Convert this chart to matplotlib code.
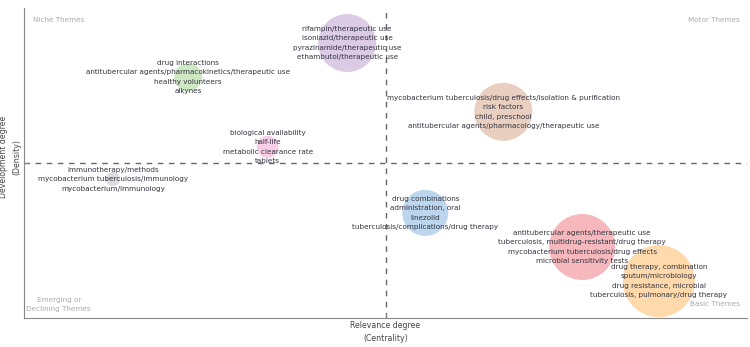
import matplotlib
matplotlib.use("Agg")
import matplotlib.pyplot as plt

# Theme clusters: centrality (x), density (y), bubble size, colour, label lines
themes = [
    "rifampin", "drug interactions", "biological availability", "immunotherapy",
    "mycobacterium tuberculosis/drug effects", "drug combinations",
    "antitubercular agents", "drug therapy, combination",
]
centrality = [0.447, 0.227, 0.337, 0.123, 0.663, 0.555, 0.772, 0.878]
density = [0.887, 0.777, 0.552, 0.448, 0.665, 0.339, 0.229, 0.119]
bubble_size = [1743, 406, 251, 102, 1743, 1097, 2258, 2687]
colors = ["#dccbe4", "#cfe8c4", "#f8cde6", "#dcdcdc", "#e9cfc0", "#bcd6ee", "#f6b8bd", "#fed9ab"]
labels = [
    ["rifampin/therapeutic use", "isoniazid/therapeutic use",
     "pyrazinamide/therapeutic use", "ethambutol/therapeutic use"],
    ["drug interactions", "antitubercular agents/pharmacokinetics/therapeutic use",
     "healthy volunteers", "alkynes"],
    ["biological availability", "half-life", "metabolic clearance rate", "tablets"],
    ["immunotherapy/methods", "mycobacterium tuberculosis/immunology",
     "mycobacterium/immunology"],
    ["mycobacterium tuberculosis/drug effects/isolation & purification",
     "risk factors", "child, preschool",
     "antitubercular agents/pharmacology/therapeutic use"],
    ["drug combinations", "administration, oral", "linezolid",
     "tuberculosis/complications/drug therapy"],
    ["antitubercular agents/therapeutic use",
     "tuberculosis, multidrug-resistant/drug therapy",
     "mycobacterium tuberculosis/drug effects", "microbial sensitivity tests"],
    ["drug therapy, combination", "sputum/microbiology",
     "drug resistance, microbial", "tuberculosis, pulmonary/drug therapy"],
]
median_x = 0.5
median_y = 0.5

plt.rcParams['font.family'] = ['DejaVu Sans']
fig = plt.figure(figsize=(7.5, 3.47), dpi=100)
ax = fig.add_axes([24 / 750, 29 / 347, 723 / 750, 310 / 347])
ax.set_xlim(0, 1)
ax.set_ylim(0, 1)

ax.scatter(centrality, density, s=bubble_size, c=colors, edgecolors="none", zorder=2)
ax.axvline(median_x, color="#666666", lw=1, ls=(0, (4, 4)), zorder=1)
ax.axhline(median_y, color="#666666", lw=1, ls=(0, (4, 4)), zorder=1)

for x, y, lab in zip(centrality, density, labels):
    ax.text(x, y, "\n".join(lab), ha="center", va="center", fontsize=5.2,
            color="#333340", linespacing=1.68, zorder=3)

qc = "#aaaaaa"
ax.text(0.012, 0.962, "Niche Themes", ha="left", va="center", fontsize=5.2, color=qc)
ax.text(0.990, 0.962, "Motor Themes", ha="right", va="center", fontsize=5.2, color=qc)
ax.text(0.048, 0.044, "Emerging or\nDeclining Themes", ha="center", va="center",
        fontsize=5.2, color=qc, linespacing=1.68)
ax.text(0.99, 0.045, "Basic Themes", ha="right", va="center", fontsize=5.2, color=qc)

for s in ["top", "right"]:
    ax.spines[s].set_visible(False)
for s in ["left", "bottom"]:
    ax.spines[s].set_color("#888888")
ax.set_xticks([median_x])
ax.set_yticks([median_y])
ax.set_xticklabels([])
ax.set_yticklabels([])
ax.tick_params(direction="in", length=3, color="#888888")

ax.text(0.5, -0.045, "Relevance degree\n(Centrality)", transform=ax.transAxes,
        ha="center", va="center", fontsize=5.6, color="#444444", linespacing=1.6)
ax.text(-0.019, 0.52, "Development degree\n(Density)", transform=ax.transAxes,
        ha="center", va="center", rotation=90, fontsize=5.6, color="#444444",
        linespacing=1.6)

fig.savefig("out.png", dpi=100)
